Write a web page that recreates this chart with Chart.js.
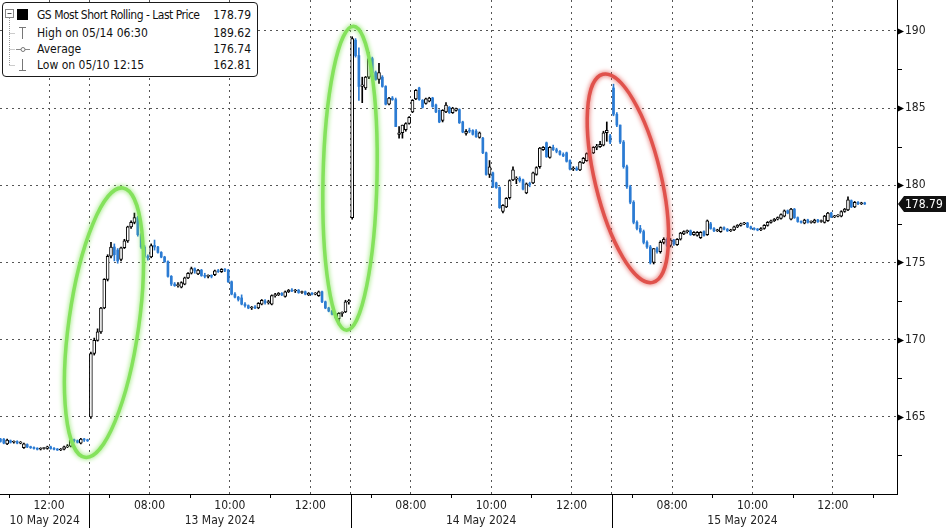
<!DOCTYPE html>
<html>
<head>
<meta charset="utf-8">
<script src="https://cdn.jsdelivr.net/npm/chart.js@4.4.1/dist/chart.umd.min.js"></script>
<style>
  body { margin: 0; background: #fff; }
  #wrap { position: relative; width: 946px; height: 528px; }
  #legend { position: absolute; left: 2px; top: 2px; width: 254px; height: 73px; border: 1px solid #1a1a1a;
            border-radius: 4px; background: #fff; font: 12px "DejaVu Sans Condensed", "DejaVu Sans", sans-serif; color: #111; }
  #legend svg { position: absolute; left: 0; top: 0; }
  .row { position: absolute; left: 0; right: 6px; height: 16px; line-height: 16px; white-space: nowrap; }
  .row .t { position: absolute; left: 34px; }
  .row .v { position: absolute; right: 0; }
</style>
</head>
<body>
<div id="wrap">
  <canvas id="chart" width="946" height="528"></canvas>
  <div id="legend">
    <svg width="254" height="73">
      <rect x="2.5" y="6.5" width="8" height="8" fill="#fff" stroke="#888"/>
      <line x1="4.5" y1="10.5" x2="8.5" y2="10.5" stroke="#555"/>
      <rect x="14" y="6" width="11" height="11" fill="#000"/>
      <line x1="6.5" y1="15" x2="6.5" y2="62" stroke="#999" stroke-dasharray="1,1"/>
      <line x1="6.5" y1="30.5" x2="12" y2="30.5" stroke="#999" stroke-dasharray="1,1"/>
      <line x1="6.5" y1="46.5" x2="12" y2="46.5" stroke="#999" stroke-dasharray="1,1"/>
      <line x1="6.5" y1="62.5" x2="12" y2="62.5" stroke="#999" stroke-dasharray="1,1"/>
      <line x1="16" y1="24.5" x2="23" y2="24.5" stroke="#777"/>
      <line x1="19.5" y1="24.5" x2="19.5" y2="36" stroke="#777"/>
      <line x1="13" y1="46.5" x2="27" y2="46.5" stroke="#888"/>
      <circle cx="20" cy="46.5" r="2" fill="#fff" stroke="#777"/>
      <line x1="19.5" y1="56" x2="19.5" y2="67.5" stroke="#777"/>
      <line x1="16" y1="67.5" x2="23" y2="67.5" stroke="#777"/>
    </svg>
    <div class="row" style="top:4px"><span class="t" style="letter-spacing:-0.5px">GS Most Short Rolling - Last Price</span><span class="v" id="v0"></span></div>
    <div class="row" style="top:22px"><span class="t">High on 05/14 06:30</span><span class="v" id="v1"></span></div>
    <div class="row" style="top:38px"><span class="t">Average</span><span class="v" id="v2"></span></div>
    <div class="row" style="top:54px"><span class="t">Low on 05/10 12:15</span><span class="v" id="v3"></span></div>
  </div>
</div>
<script>
// 5-minute bars, [open, high, low, close]
const may10 = [
  [163.55,163.6,163.35,163.4],[163.55,163.6,163.25,163.3],[163.25,163.55,163.2,163.5],[163.45,163.5,163.3,163.35],
  [163.35,163.45,163.3,163.4],[163.4,163.45,163.25,163.3],[163.3,163.4,163.25,163.35],[163.0,163.3,162.95,163.25],
  [163.2,163.25,163.0,163.05],[163.05,163.1,162.95,163.0],[163.0,163.05,162.9,162.95],[162.95,163.0,162.85,162.9],
  [162.9,163.0,162.85,162.95],[162.95,163.0,162.9,162.95],[162.95,163.1,162.9,163.05],[163.05,163.1,162.9,162.95],
  [162.95,163.0,162.85,162.9],[162.9,162.95,162.82,162.85],[162.85,162.95,162.81,162.9],[162.9,163.1,162.85,163.05],
  [163.05,163.2,163.0,163.1],[163.1,163.55,163.05,163.5],[163.5,163.55,163.35,163.45],[163.45,163.5,163.3,163.35],
  [163.3,163.6,163.25,163.55],[163.55,163.6,163.4,163.5],[163.5,163.55,163.4,163.45]
];
const may13 = [
  [165.0,169.2,164.9,169.1],[169.1,170.1,169.0,169.95],[169.95,170.7,169.9,170.5],[170.5,172.1,170.4,172.05],
  [172.05,173.95,172.0,173.9],[173.9,175.5,173.8,175.4],[175.4,176.3,175.3,176.0],[176.0,176.2,175.1,175.5],
  [175.8,175.9,174.95,175.1],[175.2,176.0,175.1,175.95],[175.95,176.5,175.9,176.4],[176.4,177.35,176.3,177.3],
  [177.3,177.7,177.2,177.6],[177.6,178.2,177.5,177.9],[177.9,178.0,176.7,176.8],[176.8,176.9,175.9,176.0],
  [176.0,176.1,175.3,175.4],[175.4,175.5,175.15,175.3],[175.35,176.2,175.3,176.1],[176.1,176.45,175.8,176.0],
  [176.0,176.05,175.6,175.65],[175.65,175.7,175.3,175.35],[175.35,175.4,175.0,175.05],[175.05,175.1,174.05,174.1],
  [174.1,174.15,173.5,173.6],[173.6,173.7,173.45,173.5],[173.5,173.7,173.4,173.55],[173.4,173.75,173.35,173.7],
  [173.6,174.05,173.55,174.0],[174.0,174.35,173.95,174.3],[174.3,174.7,174.25,174.6],[174.6,174.65,174.3,174.45],
  [174.25,174.55,174.2,174.5],[174.5,174.55,174.1,174.15],[174.15,174.3,174.0,174.1],[174.1,174.2,174.0,174.15],
  [174.15,174.2,174.0,174.1],[174.2,174.5,174.15,174.45],[174.45,174.55,174.35,174.4],[174.4,174.6,174.35,174.55],
  [174.55,174.6,174.4,174.5],[174.5,174.55,173.7,173.75],[173.75,173.8,172.9,172.95],[172.95,173.05,172.7,172.75],
  [172.75,172.8,172.5,172.6],[172.7,172.9,172.25,172.3],[172.3,172.4,172.1,172.2],[172.2,172.25,172.0,172.05],
  [172.05,172.15,171.95,172.1],[172.1,172.2,172.0,172.05],[172.05,172.4,172.0,172.35],[172.3,172.6,172.25,172.55],
  [172.5,172.6,172.3,172.4],[172.4,172.55,172.3,172.45],[172.3,172.9,172.25,172.85],[172.85,173.0,172.75,172.9],
  [172.9,173.05,172.85,173.0],[173.0,173.05,172.85,172.9],[172.8,173.15,172.75,173.1],[173.1,173.25,173.05,173.2],
  [173.2,173.3,173.1,173.15],[173.15,173.25,173.05,173.2],[173.2,173.25,173.0,173.05],[173.05,173.15,173.0,173.1],
  [173.1,173.15,172.9,172.95],[172.9,173.05,172.85,173.0],[173.0,173.05,172.9,172.95],[172.95,173.05,172.9,173.0],
  [172.85,173.15,172.8,173.1],[173.1,173.15,172.4,172.45],[172.45,172.5,172.0,172.05],[172.05,172.1,171.8,171.85],
  [171.85,171.9,171.6,171.65],[171.65,171.7,171.4,171.45],[171.35,171.75,171.1,171.7],[171.7,171.8,171.5,171.75],
  [171.8,172.55,171.75,172.45],[172.45,172.6,172.3,172.5]
];
const may14 = [
  [177.9,189.62,177.8,189.5],[189.4,189.5,188.3,188.4],[188.4,188.9,185.5,186.4],[186.4,187.0,185.35,186.5],
  [186.3,187.05,186.2,187.0],[187.0,188.6,186.9,188.2],[188.2,188.3,187.2,187.3],[187.3,187.4,186.8,186.85],
  [186.85,187.9,186.6,187.3],[187.0,187.1,186.35,186.4],[186.4,186.45,185.2,185.25],[185.25,185.7,185.2,185.65],
  [185.65,185.75,185.5,185.55],[185.55,185.65,183.8,183.8],[183.3,183.8,183.05,183.4],[183.4,183.9,183.05,183.9],
  [183.6,184.05,183.5,184.0],[184.0,184.45,183.95,184.4],[184.75,185.55,184.7,185.5],[185.6,186.2,185.55,186.15],
  [186.3,186.35,185.5,185.55],[185.5,185.55,185.0,185.05],[185.3,185.65,185.25,185.6],[185.45,185.7,185.4,185.65],
  [185.65,185.7,185.05,185.1],[185.2,185.25,184.7,184.75],[184.85,184.9,184.05,184.1],[184.2,184.9,184.1,184.85],
  [184.75,185.35,184.7,185.2],[185.05,185.1,184.65,184.7],[184.7,185.05,184.65,185.0],[184.85,185.0,184.8,184.95],
  [184.9,184.95,184.0,184.05],[184.1,184.15,183.4,183.45],[183.35,183.6,183.25,183.5],[183.55,183.7,183.4,183.5],
  [183.55,183.6,183.25,183.3],[183.5,183.6,183.1,183.15],[183.1,183.45,183.05,183.4],[183.05,183.1,182.05,182.1],
  [182.1,182.15,180.65,180.7],[180.7,181.6,180.5,181.2],[180.8,180.85,179.85,179.9],[180.15,180.2,179.8,179.85],
  [179.85,179.9,178.5,178.55],[178.3,178.75,178.2,178.7],[178.6,179.2,178.55,179.15],[179.2,180.35,179.1,180.3],
  [180.35,181.2,180.3,181.0],[180.4,180.55,180.1,180.45],[180.45,180.55,180.2,180.3],[180.35,180.4,179.7,179.75],
  [179.5,180.15,179.45,180.1],[180.1,180.2,179.9,180.05],[180.15,180.85,180.1,180.8],[180.7,181.2,180.65,181.15],
  [181.2,182.45,181.1,182.4],[182.3,182.5,182.25,182.45],[182.75,182.8,181.8,181.85],[181.8,182.5,181.75,182.45],
  [182.45,182.6,182.25,182.3],[182.3,182.4,182.1,182.2],[182.2,182.25,181.95,182.0],[182.0,182.1,181.85,181.9],
  [182.1,182.15,181.5,181.55],[181.6,181.65,181.0,181.05],[181.05,181.2,180.95,181.1],[181.1,181.2,180.95,181.0],
  [181.0,181.55,180.95,181.5],[181.45,181.8,181.4,181.75],[181.6,182.1,181.55,182.05],[182.05,182.15,181.9,182.0],
  [182.1,182.5,182.05,182.45],[182.45,182.65,182.3,182.5],[182.5,182.85,182.45,182.65],[182.6,183.5,182.55,183.4],
  [183.4,184.1,182.85,183.55],[183.2,183.3,182.7,182.8]
];
const may15 = [
  [186.3,186.55,184.5,184.6],[184.6,184.7,183.8,183.9],[183.9,183.9,182.7,182.8],[182.8,182.9,181.1,181.2],
  [181.2,181.3,179.8,179.9],[179.9,180.0,178.8,178.9],[178.9,179.0,177.5,177.6],[177.6,177.7,177.1,177.2],
  [177.2,177.4,176.9,177.0],[177.0,177.1,176.2,176.3],[176.3,176.4,175.9,176.0],[176.0,176.1,174.9,175.0],
  [175.0,175.9,174.9,175.9],[175.9,176.0,175.6,175.7],[175.7,176.4,175.6,176.3],[176.3,176.6,176.2,176.5],
  [176.5,176.6,176.0,176.1],[176.1,176.55,176.0,176.45],[176.45,176.5,176.1,176.2],[176.15,176.55,176.1,176.5],
  [176.5,176.95,176.45,176.9],[176.85,177.05,176.8,177.0],[177.0,177.1,176.9,177.05],[177.05,177.1,176.75,176.8],
  [176.8,177.0,176.75,176.95],[176.75,177.0,176.7,176.95],[176.6,177.0,176.55,176.95],[177.0,177.05,176.7,176.75],
  [176.8,177.75,176.75,177.7],[177.5,177.6,177.15,177.2],[177.2,177.25,177.0,177.05],[177.05,177.15,177.0,177.1],
  [177.0,177.3,176.95,177.25],[177.25,177.3,177.1,177.15],[177.15,177.2,177.0,177.05],[177.05,177.15,177.0,177.1],
  [177.1,177.35,177.05,177.3],[177.3,177.45,177.25,177.4],[177.4,177.55,177.35,177.5],[177.5,177.6,177.45,177.55],
  [177.55,177.6,177.25,177.3],[177.3,177.35,177.15,177.2],[177.2,177.25,177.1,177.15],[177.15,177.2,177.05,177.1],
  [177.1,177.25,177.05,177.2],[177.2,177.45,177.15,177.4],[177.4,177.65,177.35,177.6],[177.6,177.75,177.55,177.7],
  [177.7,177.85,177.65,177.8],[177.8,177.95,177.75,177.9],[177.85,178.15,177.8,178.1],[178.0,178.4,177.95,178.35],
  [178.35,178.4,178.15,178.2],[177.8,178.5,177.75,178.45],[178.45,178.5,177.85,177.9],[177.9,177.95,177.6,177.65],
  [177.65,177.7,177.55,177.6],[177.55,177.8,177.5,177.75],[177.75,177.8,177.55,177.6],[177.6,177.7,177.55,177.65],
  [177.6,177.8,177.55,177.75],[177.75,177.8,177.6,177.65],[177.65,177.75,177.6,177.7],[177.6,178.05,177.55,178.0],
  [177.7,178.25,177.65,178.2],[178.2,178.25,177.9,177.95],[177.95,178.05,177.9,178.0],[178.0,178.1,177.95,178.05],
  [178.0,178.35,177.95,178.3],[178.3,178.5,178.25,178.45],[178.4,179.25,178.35,179.05],[179.0,179.05,178.55,178.6],
  [178.6,178.95,178.55,178.9],[178.9,178.95,178.75,178.8],[178.8,178.9,178.75,178.85],[178.85,178.9,178.75,178.79]
];

// axis ticks (bar index units: one unit = one 5-minute bar)
const timeTickPos = [14.5, 44.5, 68.5, 92.5, 122.5, 146.5, 170.5, 200.5, 224.5, 248.5];
const timeTickLabels = ['12:00', '08:00', '10:00', '12:00', '08:00', '10:00', '12:00', '08:00', '10:00', '12:00'];
const oddHourPos = [2.5, 32.5, 56.5, 80.5, 110.5, 134.5, 158.5, 188.5, 212.5, 236.5, 260.5];
const dayBreaks = [26.5, 104.5, 182.5];
const dayLabelPos = [13.2, 65.5, 143.5, 221.5];
const dayLabels = ['10 May 2024', '13 May 2024', '14 May 2024', '15 May 2024'];
const legendValues = [178.79, 189.62, 176.74, 162.81];

const BLUE = '#2b7bd3';
const FONT = '"DejaVu Sans Condensed", "DejaVu Sans", sans-serif';

const candles = [].concat(may10, may13, may14, may15);
const isUp = c => c[3] >= c[0];
const upBodies = [], downBodies = [];
candles.forEach((c, i) => {
    if (isUp(c)) upBodies.push({ x: i, y: [c[0], c[3]] });
    else downBodies.push({ x: i, y: [c[3], c[0]] });
});

legendValues.forEach((v, k) => { document.getElementById('v' + k).textContent = v.toFixed(2); });

var overlay = {
    id: 'overlay',
    afterDatasetsDraw: function(chart) {
        var xs = chart.scales.x, ys = chart.scales.y, ctx = chart.ctx;
        // hand-drawn style circles, anchored on bar index / price
        var marks = [
            { i: 30.9, v: 171.1, rx: 35, ry: 136, rot: 8, color: '#84e25c' },
            { i: 104.35, v: 180.45, rx: 27, ry: 152, rot: 1.3, color: '#84e25c' },
            { i: 187.3, v: 180.45, rx: 33, ry: 107, rot: -13.5, color: '#e0524c' }
        ];
        ctx.save();
        marks.forEach(function(m) {
            ctx.beginPath();
            ctx.ellipse(xs.getPixelForValue(m.i), ys.getPixelForValue(m.v), m.rx, m.ry, m.rot * Math.PI / 180, 0, Math.PI * 2);
            ctx.strokeStyle = m.color;
            ctx.lineWidth = 3.5;
            ctx.shadowColor = m.color;
            ctx.shadowBlur = 5;
            ctx.stroke();
        });
        ctx.restore();
    },
    afterDraw: function(chart) {
        var xs = chart.scales.x, ys = chart.scales.y, ctx = chart.ctx;
        var area = chart.chartArea;
        ctx.save();
        ctx.strokeStyle = '#000';
        ctx.fillStyle = '#000';
        ctx.lineWidth = 1;
        // y axis tick markers
        ys.ticks.forEach(function(t) {
            var py = Math.round(ys.getPixelForValue(t.value)) + 0.5;
            if (t.value % 5 === 0) {
                ctx.beginPath();
                ctx.moveTo(area.right, py - 3.5);
                ctx.lineTo(area.right + 7, py);
                ctx.lineTo(area.right, py + 3.5);
                ctx.closePath();
                ctx.fill();
            } else {
                ctx.beginPath();
                ctx.moveTo(area.right, py);
                ctx.lineTo(area.right + 5, py);
                ctx.stroke();
            }
        });
        // small ticks at odd hours, day separators
        oddHourPos.forEach(function(p) {
            var px = Math.round(xs.getPixelForValue(p)) + 0.5;
            ctx.beginPath();
            ctx.moveTo(px, area.bottom);
            ctx.lineTo(px, area.bottom + 4);
            ctx.stroke();
        });
        dayBreaks.forEach(function(p) {
            var px = Math.round(xs.getPixelForValue(p)) + 0.5;
            ctx.beginPath();
            ctx.moveTo(px, area.bottom);
            ctx.lineTo(px, chart.height);
            ctx.stroke();
        });
        // last price tag
        var last = candles[candles.length - 1][3];
        var py = ys.getPixelForValue(last);
        ctx.fillStyle = '#111';
        ctx.beginPath();
        ctx.moveTo(area.right + 1, py);
        ctx.lineTo(area.right + 7, py - 8);
        ctx.lineTo(chart.width, py - 8);
        ctx.lineTo(chart.width, py + 8);
        ctx.lineTo(area.right + 7, py + 8);
        ctx.closePath();
        ctx.fill();
        ctx.fillStyle = '#fff';
        ctx.font = '12px ' + FONT;
        ctx.textBaseline = 'middle';
        ctx.fillText(last.toFixed(2), area.right + 8, py + 0.5);
        ctx.restore();
    }
};

var ctx = document.getElementById('chart').getContext('2d');
var myChart = new Chart(ctx, {
    type: 'bar',
    data: {
        datasets: [{
            label: 'up',
            data: upBodies,
            xAxisID: 'x', yAxisID: 'y',
            grouped: false,
            barThickness: 3,
            borderWidth: 1,
            borderSkipped: false,
            minBarLength: 1,
            backgroundColor: '#fff',
            borderColor: '#000'
        }, {
            label: 'down',
            data: downBodies,
            xAxisID: 'x', yAxisID: 'y',
            grouped: false,
            barThickness: 2,
            borderWidth: 0,
            minBarLength: 1,
            backgroundColor: BLUE
        }, {
            label: 'wick',
            data: candles.map((c, i) => ({ x: i, y: [c[2], c[1]] })),
            xAxisID: 'x', yAxisID: 'y',
            grouped: false,
            barThickness: 1,
            borderWidth: 0,
            backgroundColor: candles.map(c => isUp(c) ? '#000' : BLUE)
        }]
    },
    options: {
        responsive: false,
        animation: false,
        devicePixelRatio: 1,
        layout: { padding: 0 },
        plugins: { legend: { display: false }, tooltip: { enabled: false } },
        scales: {
            x: {
                type: 'linear', position: 'bottom', min: -0.13, max: 267.63, offset: false,
                afterBuildTicks: s => { s.ticks = timeTickPos.concat(dayBreaks).map(v => ({ value: v })); },
                afterFit: s => { s.height = 18; s.paddingLeft = 0; s.paddingRight = 0; },
                ticks: {
                    autoSkip: false, maxRotation: 0, padding: 5, color: '#222',
                    font: { family: FONT, size: 12 },
                    callback: v => { var k = timeTickPos.indexOf(v); return k >= 0 ? timeTickLabels[k] : ''; }
                },
                grid: { color: '#555', lineWidth: 1, drawTicks: false, offset: false },
                border: { color: '#000', width: 1, dash: [2, 4] }
            },
            x2: {
                type: 'linear', axis: 'x', position: 'bottom', min: -0.13, max: 267.63, offset: false,
                afterBuildTicks: s => { s.ticks = dayLabelPos.map(v => ({ value: v })); },
                afterFit: s => { s.height = 16; s.paddingLeft = 0; s.paddingRight = 0; },
                ticks: {
                    autoSkip: false, maxRotation: 0, padding: 2, color: '#222',
                    font: { family: FONT, size: 12 },
                    callback: (v, k) => dayLabels[k]
                },
                grid: { display: false, drawTicks: false, offset: false },
                border: { display: false }
            },
            y: {
                type: 'linear', position: 'right', min: 160, max: 192,
                afterBuildTicks: s => {
                    var t = [];
                    for (var v = 162.5; v <= 190; v += 2.5) t.push({ value: v });
                    s.ticks = t;
                },
                afterFit: s => { s.width = 49; s.paddingTop = 0; s.paddingBottom = 0; },
                ticks: {
                    padding: 8, color: '#222',
                    font: { family: FONT, size: 12 },
                    callback: v => v % 5 === 0 ? String(v) : ''
                },
                grid: {
                    color: c => (c.tick && c.tick.value % 5 === 0) ? '#555' : 'rgba(0,0,0,0)',
                    lineWidth: 1, drawTicks: false
                },
                border: { color: '#000', width: 1, dash: [2, 4] }
            }
        }
    },
    plugins: [overlay]
});
</script>
</body>
</html>
